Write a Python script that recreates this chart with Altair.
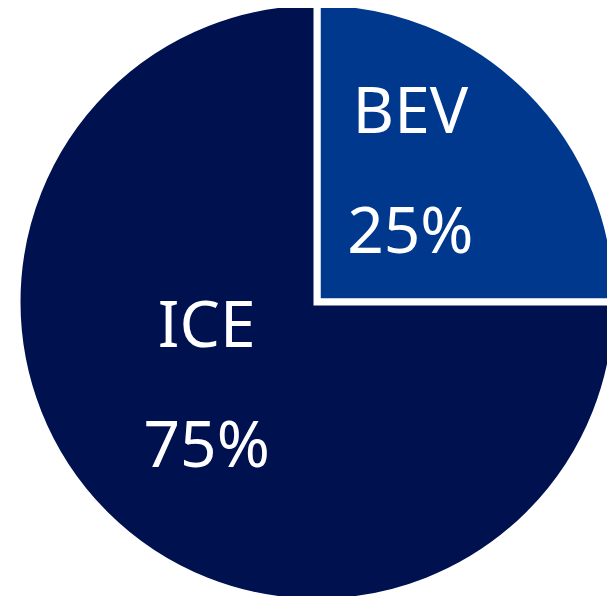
import altair as alt
import pandas as pd

categories = ["BEV", "ICE"]
shares = [25, 75]
labels = ["25%", "75%"]
colors = ["#00388D", "#001150"]

df = pd.DataFrame({"category": categories, "share": shares, "label": labels,
                   "order": [0, 1]})
total = sum(shares)

base = alt.Chart(df).encode(
    theta=alt.Theta("share:Q", stack=True),
    order=alt.Order("order:Q"),
)

arcs = base.mark_arc(radius=300, stroke="white", strokeWidth=7).encode(
    color=alt.Color("category:N", scale=alt.Scale(domain=categories, range=colors), legend=None)
)

font = "Noto Sans"
text_style = dict(radius=149, fontSize=64, font=font, color="white",
                  baseline="middle", align="center")

stacked = alt.Chart(df).transform_stack(
    stack="share", groupby=[], as_=["s0", "s1"], sort=[alt.SortField("order")]
).transform_calculate(mid="(datum.s0 + datum.s1) / 2")

layers = [arcs]
for cat, dx, dy in [("BEV", -12, -83), ("ICE", -5, -79)]:
    sel = stacked.transform_filter(alt.datum.category == cat).encode(
        theta=alt.Theta("mid:Q", stack=None, scale=alt.Scale(domain=[0, total]))
    )
    layers.append(sel.mark_text(dx=dx, dy=dy, **text_style).encode(text="category:N"))
    layers.append(sel.mark_text(dx=dx, dy=dy + 120, **text_style).encode(text="label:N"))

chart = alt.layer(*layers).resolve_scale(theta="independent").properties(
    width=580, height=588,
    padding={"left": 19, "top": 0, "right": 0, "bottom": 0},
    autosize=alt.AutoSizeParams(type="none"),
    background="white",
).configure_view(stroke=None)

chart.save("out.html", embed_options={"renderer": "svg", "actions": False})
